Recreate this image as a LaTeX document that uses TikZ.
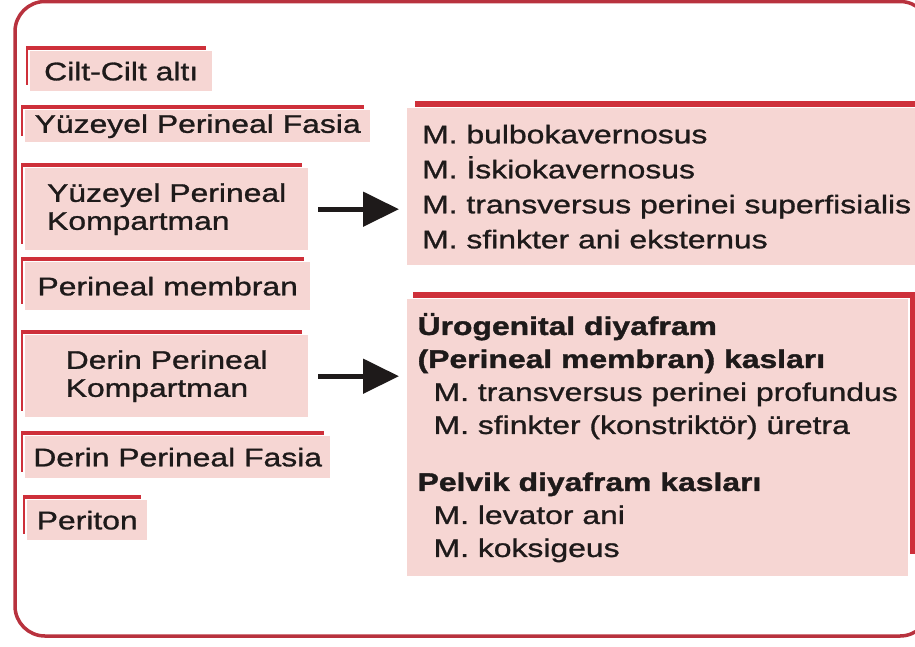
\documentclass[tikz,border=0pt]{standalone}
\usepackage{fontspec}
\setmainfont{Liberation Sans}[FakeStretch=1.25, UprightFeatures={FakeBold=1.1}, BoldFeatures={FakeBold=1.5}]
\usetikzlibrary{arrows.meta}
\definecolor{layerpink}{RGB}{246,214,211}
\definecolor{barred}{RGB}{206,48,58}
\definecolor{framered}{RGB}{184,50,62}
\definecolor{inkblack}{RGB}{30,26,26}

\begin{document}
\begin{tikzpicture}[
    x=1pt, y=-1pt,
    layer/.style={fill=layerpink, anchor=north west, inner sep=0pt, align=left, text=inkblack, font=\fontsize{25.5}{28}\selectfont},
    muscles/.style={fill=layerpink, anchor=north west, inner xsep=15pt, inner ysep=0pt, align=left, text=inkblack, font=\fontsize{25.5}{35}\selectfont},
    topbar/.style={draw=barred, line width=4.5pt},
    sidebar/.style={draw=barred, line width=2.5pt},
    frame/.style={draw=framered, line width=3.5pt, rounded corners=30pt},
    arrow/.style={-{Triangle[length=36pt, width=34pt]}, line width=5pt, draw=inkblack}
]
\useasboundingbox (0,0) rectangle (915,646);

% Rahmen
\draw[frame] (15,1.5) rectangle (930,636);

% Katmanlar (dıştan içe)
\node[layer, minimum width=182, minimum height=40] (cilt) at (30,51) {Cilt-Cilt altı};
\node[layer, minimum width=345, minimum height=32] (yfasia) at (25,110) {Yüzeyel Perineal Fasia};
\node[layer, minimum width=283, minimum height=82] (ykomp) at (25,168) {Yüzeyel Perineal\\Kompartman};
\node[layer, minimum width=285, minimum height=48] (pmembran) at (25,262) {Perineal membran};
\node[layer, minimum width=283, minimum height=82] (dkomp) at (25,335) {Derin Perineal\\Kompartman};
\node[layer, minimum width=305, minimum height=42] (dfasia) at (25,436) {Derin Perineal Fasia};
\node[layer, minimum width=120, minimum height=40] (periton) at (27,500) {Periton};

% Kaslar
\node[muscles, minimum height=157] (supmus) at (407,108) {M. bulbokavernosus\\M. İskiokavernosus\\M. transversus perinei superfisialis\\M. sfinkter ani eksternus};
\node[muscles, inner xsep=9pt, minimum width=501, minimum height=277, font=\fontsize{25.5}{33}\selectfont] (deepmus) at (407,299) {\textbf{Ürogenital diyafram}\\\textbf{(Perineal membran) kasları}\\\hspace*{16pt}M. transversus perinei profundus\\\hspace*{16pt}M. sfinkter (konstriktör) üretra\\[24pt]\textbf{Pelvik diyafram kasları}\\\hspace*{16pt}M. levator ani\\\hspace*{16pt}M. koksigeus};

% Kırmızı kenarlar
\foreach \n in {cilt,yfasia,ykomp,pmembran,dkomp,dfasia,periton}{
  \draw[topbar] ([xshift=-4pt,yshift=3pt]\n.north west) -- ([xshift=-6pt,yshift=3pt]\n.north east);
  \draw[sidebar] ([xshift=-3pt,yshift=3pt]\n.north west) -- ([xshift=-3pt,yshift=6pt]\n.south west);
}
\draw[topbar, line width=6pt] ([xshift=8pt,yshift=4pt]supmus.north west) -- ([yshift=4pt]supmus.north east);
\draw[topbar, line width=6pt] ([xshift=6pt,yshift=4pt]deepmus.north west) -- ([xshift=7pt,yshift=4pt]deepmus.north east);
\draw[topbar, line width=5pt] ([xshift=4pt,yshift=4pt]deepmus.north east) -- ([xshift=4pt,yshift=22pt]deepmus.south east);

% Oklar
\draw[arrow] ([xshift=10pt]ykomp.east) -- ([xshift=-8pt]ykomp.east -| supmus.west);
\draw[arrow] ([xshift=10pt]dkomp.east) -- ([xshift=-8pt]dkomp.east -| deepmus.west);

\end{tikzpicture}
\end{document}
